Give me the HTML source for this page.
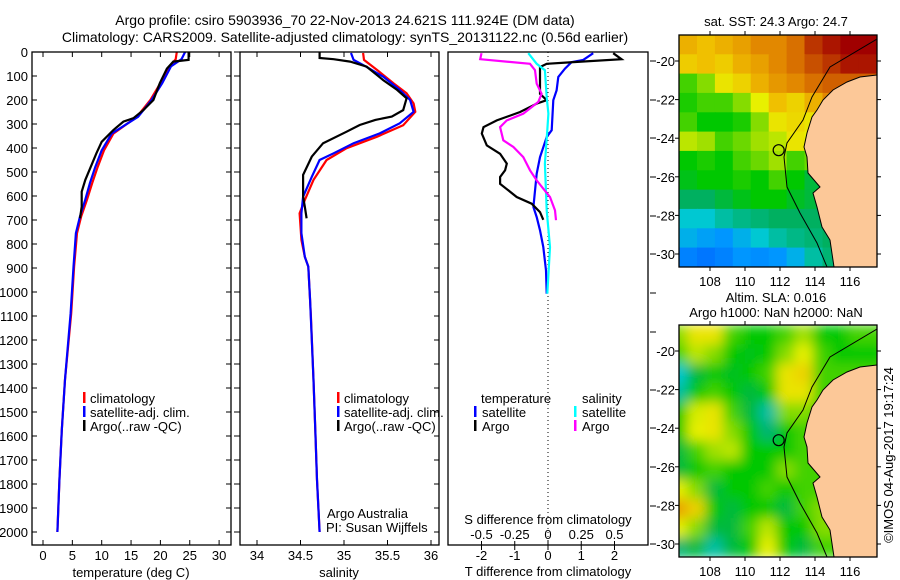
<!DOCTYPE html>
<html><head><meta charset="utf-8"><style>
body{margin:0;background:#fff}
svg{display:block;font-family:"Liberation Sans",sans-serif}
text{fill:#000}
</style></head><body>
<svg id="c" width="900" height="580" viewBox="0 0 900 580" xmlns="http://www.w3.org/2000/svg">
<defs>
<clipPath id="cp1"><rect x="32" y="52" width="199" height="493"/></clipPath>
<clipPath id="cp2"><rect x="240" y="52" width="199" height="493"/></clipPath>
<clipPath id="cp3"><rect x="448" y="52" width="200" height="493"/></clipPath>
<clipPath id="cm1"><rect x="679" y="35" width="198" height="232"/></clipPath>
<clipPath id="cm2"><rect x="679" y="325" width="198" height="232"/></clipPath>
<filter id="blur"><feGaussianBlur stdDeviation="6"/></filter>
</defs>
<text x="345" y="25" font-size="14" text-anchor="middle">Argo profile: csiro 5903936_70 22-Nov-2013 24.621S 111.924E (DM data)</text>
<text x="345" y="42" font-size="14" text-anchor="middle">Climatology: CARS2009. Satellite-adjusted climatology: synTS_20131122.nc (0.56d earlier)</text>
<g id="g"></g>
</svg>
<script>
// ---- data ----
const tSatD=[0,30,60,130,200,270,340,410,480,545,615,685,755,895,1090,1365,1575,1785,2000];
const tSatV=[24.2,23.6,21.8,20.3,18.5,16.2,11.7,10.0,8.9,8.0,7.2,6.3,5.6,5.2,4.7,3.75,3.2,2.8,2.45];
const tCliD=[0,30,60,130,200,270,340,410,480,545,615,685,755,895,1090,1365,1575,1785,2000];
const tCliV=[22.8,22.6,21.6,20.0,18.3,16.0,12.0,10.4,9.3,8.4,7.5,6.5,5.8,5.3,4.8,3.75,3.2,2.8,2.45];
const tArgD=[0,33,40,69,130,200,242,276,290,325,374,422,533,582,644,693];
const tArgV=[24.8,24.8,22.2,21.1,19.9,18.8,17.1,15.4,13.7,12.0,10.0,9.1,7.2,6.6,6.6,6.3];
const sSatD=[4,33,62,103,158,200,249,297,339,380,422,450,520,603,672,755,853,894,1033,1367,1575,1783,2000];
const sSatV=[35.08,35.11,35.26,35.45,35.64,35.76,35.80,35.64,35.41,35.11,34.88,34.72,34.63,34.53,34.51,34.51,34.55,34.59,34.61,34.65,34.67,34.69,34.72];
const sCliD=[4,33,75,131,172,214,249,305,353,401,450,533,617,672,783,853,894,1100,1367,1575,1783,2000];
const sCliV=[35.22,35.23,35.38,35.57,35.72,35.80,35.82,35.68,35.38,35.03,34.80,34.65,34.55,34.49,34.51,34.55,34.59,34.62,34.65,34.67,34.69,34.72];
const sArgD=[0,25,30,40,61,117,158,193,242,269,283,304,332,380,436,512,603,644,693];
const sArgV=[34.72,34.72,34.88,35.07,35.26,35.45,35.61,35.72,35.68,35.55,35.36,35.18,35.03,34.76,34.63,34.53,34.53,34.55,34.57];
const dTSatD=[5,33,42,69,104,160,201,326,354,438,507,646,688,743,813,910,1007];
const dTSatV=[1.36,1.06,0.71,0.51,0.31,0.26,0.16,0.11,-0.04,-0.24,-0.34,-0.44,-0.34,-0.24,-0.14,-0.06,-0.04];
const dTArgD=[5,30,42,49,63,118,174,201,215,250,285,313,340,389,424,465,493,521,549,604,632,667,699];
const dTArgV=[1.96,2.21,0.76,-0.04,-0.24,-0.24,-0.24,-0.04,-0.34,-0.84,-1.54,-1.94,-1.99,-1.84,-1.44,-1.24,-1.29,-1.44,-1.44,-0.94,-0.49,-0.24,-0.14];
const dSSatD=[5,49,76,188,257,326,465,660,813,1007];
const dSSatV=[-0.148,-0.085,-0.023,-0.01,0.003,-0.005,-0.023,-0.01,0.015,-0.005];
const dSArgD=[5,30,49,76,132,174,208,257,285,313,368,396,438,493,535,604,660,701];
const dSArgV=[-0.5,-0.51,-0.135,-0.098,-0.085,-0.048,-0.073,-0.186,-0.31,-0.36,-0.336,-0.26,-0.186,-0.135,-0.085,0.015,0.053,0.06];
const depthTicks=[0,100,200,300,400,500,600,700,800,900,1000,1100,1200,1300,1400,1500,1600,1700,1800,1900,2000];
const tempTicks=[0,5,10,15,20,25,30];
const salTicks=[34,34.5,35,35.5,36];
const dTTicks=[-2,-1,0,1,2];
const dSTicks=[-0.5,-0.25,0,0.25,0.5];
const lonTicks=[108,110,112,114,116];
const latTicks=[-20,-22,-24,-26,-28,-30];
const argoLon=111.924, argoLat=-24.621;
const sstGrid=[
[0.8,0.78,0.8,0.82,0.85,0.85,0.88,0.95,0.98,1,1],
[0.76,0.78,0.76,0.8,0.82,0.85,0.88,0.92,0.95,0.98,0.98],
[0.55,0.6,0.72,0.75,0.8,0.83,0.85,0.88,0.9,0.9,0.9],
[0.52,0.55,0.55,0.6,0.7,0.78,0.75,0.8,0.85,0.85,0.85],
[0.55,0.5,0.5,0.52,0.6,0.72,0.74,0.72,0.6,0.6,0.6],
[0.65,0.62,0.55,0.58,0.62,0.65,0.72,0.7,0.6,0.6,0.6],
[0.5,0.52,0.5,0.55,0.58,0.62,0.55,0.58,0.5,0.5,0.5],
[0.48,0.5,0.5,0.52,0.5,0.55,0.5,0.45,0.45,0.45,0.45],
[0.42,0.42,0.45,0.48,0.5,0.5,0.47,0.45,0.43,0.43,0.43],
[0.3,0.3,0.35,0.38,0.4,0.42,0.42,0.42,0.42,0.42,0.42],
[0.25,0.22,0.2,0.25,0.3,0.35,0.38,0.4,0.42,0.42,0.42],
[0.15,0.12,0.15,0.2,0.18,0.2,0.25,0.35,0.4,0.4,0.4]];
const slaGrid=[
[0.6,0.72,0.72,0.55,0.5,0.5,0.55,0.62,0.5,0.5,0.55],
[0.55,0.65,0.6,0.5,0.48,0.5,0.6,0.7,0.55,0.5,0.5],
[0.3,0.45,0.5,0.47,0.5,0.55,0.72,0.75,0.55,0.55,0.55],
[0.35,0.5,0.55,0.5,0.45,0.5,0.72,0.72,0.55,0.55,0.55],
[0.5,0.68,0.72,0.55,0.45,0.35,0.6,0.6,0.55,0.55,0.55],
[0.5,0.7,0.72,0.6,0.5,0.4,0.5,0.55,0.55,0.55,0.55],
[0.45,0.55,0.62,0.65,0.5,0.5,0.5,0.55,0.55,0.55,0.55],
[0.45,0.5,0.55,0.5,0.5,0.5,0.6,0.55,0.55,0.55,0.55],
[0.7,0.6,0.45,0.5,0.5,0.55,0.5,0.55,0.55,0.55,0.55],
[0.82,0.75,0.5,0.45,0.5,0.5,0.45,0.55,0.6,0.6,0.6],
[0.7,0.6,0.45,0.45,0.55,0.65,0.5,0.5,0.6,0.6,0.6],
[0.4,0.45,0.35,0.45,0.5,0.7,0.5,0.45,0.55,0.55,0.55]];
// ---- scales ----
const yD=d=>52+d*0.24, xT=t=>43+t*5.87, xS=s=>257+(s-34)*87;
const xdT=t=>548+t*33.25, xdS=s=>548+s*133;
const xLon=l=>710+(l-108)*17.5, yLat=(l,off)=>61+off+(-20-l)*19.3;
const NS='http://www.w3.org/2000/svg', G=document.getElementById('g');
function mk(tag,attrs,parent){const e=document.createElementNS(NS,tag);for(const k in attrs)e.setAttribute(k,attrs[k]);(parent||G).appendChild(e);return e;}
function txt(x,y,s,size,anchor,name){const e=mk('text',{x:x,y:y,'font-size':size,'text-anchor':anchor||'start'});e.textContent=s;


return e;}
function line(D,V,xf,color,clip,name){const pts=D.map((d,i)=>xf(V[i]).toFixed(1)+','+yD(d).toFixed(1)).join(' ');
const e=mk('polyline',{points:pts,fill:'none',stroke:color,'stroke-width':2.2,'clip-path':'url(#'+clip+')'});

}
function frame(x,y,w,h,name){const e=mk('rect',{x:x,y:y,width:w,height:h,fill:'none',stroke:'#000','stroke-width':1.3});

}
function tk(x1,y1,x2,y2){mk('line',{x1:x1,y1:y1,x2:x2,y2:y2,stroke:'#000','stroke-width':1});}
// panel 1
depthTicks.forEach(d=>{const y=yD(d);txt(28,y+5,String(d),13,'end','depth-tick-label');tk(32,y,37,y);tk(226,y,231,y);tk(234,y,240,y);tk(434,y,439,y);});
tempTicks.forEach(t=>{const x=xT(t);txt(x,560,String(t),13,'middle','temp-tick-label');tk(x,545,x,540);tk(x,52,x,57);});
salTicks.forEach(s=>{const x=xS(s);txt(x,560,String(s),13,'middle','salinity-tick-label');tk(x,545,x,540);tk(x,52,x,57);});
line(tCliD,tCliV,xT,'#f00','cp1','temp-climatology-line');
line(tSatD,tSatV,xT,'#0000ff','cp1','temp-satellite-line');
line(tArgD,tArgV,xT,'#000','cp1','temp-argo-line');
line(sCliD,sCliV,xS,'#f00','cp2','sal-climatology-line');
line(sSatD,sSatV,xS,'#0000ff','cp2','sal-satellite-line');
line(sArgD,sArgV,xS,'#000','cp2','sal-argo-line');
frame(32,52,199,493,'temperature-plot-frame');frame(240,52,199,493,'salinity-plot-frame');frame(448,52,200,493,'difference-plot-frame');
txt(131,577,'temperature (deg C)',13,'middle','temperature-axis-title');
txt(339,577,'salinity',13,'middle','salinity-axis-title');
[[84,'climatology','#f00'],[84,'satellite-adj. clim.','#00f'],[84,'Argo(..raw -QC)','#000']].forEach((l,i)=>{
 mk('rect',{x:83,y:392+i*14,width:2.5,height:11,fill:l[2]});txt(90,403+i*14,l[1],13,'start','temp-legend-entry');
 mk('rect',{x:337,y:392+i*14,width:2.5,height:11,fill:l[2]});txt(344,403+i*14,l[1],13,'start','sal-legend-entry');});
txt(327,518,'Argo Australia',13,'start','credit-argo-australia');
txt(326,532,'PI: Susan Wijffels',13,'start','credit-pi');
// panel 3
mk('line',{x1:548,y1:52,x2:548,y2:545,stroke:'#000','stroke-width':1,'stroke-dasharray':'1,3'});
line(dTSatD,dTSatV,xdT,'#0000ff','cp3','dT-satellite-line');
line(dTArgD,dTArgV,xdT,'#000','cp3','dT-argo-line');
line(dSSatD,dSSatV,xdS,'#00ffff','cp3','dS-satellite-line');
line(dSArgD,dSArgV,xdS,'#ff00ff','cp3','dS-argo-line');
dTTicks.forEach(t=>{const x=xdT(t);txt(x,560,String(t),13,'middle','dT-tick-label');tk(x,545,x,550);});
dSTicks.forEach(s=>{const x=xdS(s);txt(x,539,String(s),13,'middle','dS-tick-label');tk(x,545,x,541);});
txt(548,524,'S difference from climatology',13,'middle','dS-axis-title');
txt(548,576,'T difference from climatology',13,'middle','dT-axis-title');
txt(481,403,'temperature',13,'start','diff-legend-temperature');txt(582,403,'salinity',13,'start','diff-legend-salinity');
[['#00f',474,'satellite'],['#000',474,'Argo'],['#0ff',574,'satellite'],['#f0f',574,'Argo']].forEach((l,i)=>{const r=i%2;
 mk('rect',{x:l[1],y:406+r*14,width:2.5,height:11,fill:l[0]});txt(l[1]+8,417+r*14,l[2],13,'start','diff-legend-entry');});
[61,100,138,177,216,254,293,332,390,428,467,506,544].forEach(y=>tk(650,y,656,y));
// maps
const stops=[[0,[0,70,255]],[0.2,[0,150,255]],[0.3,[0,200,210]],[0.42,[0,176,96]],[0.5,[0,200,0]],[0.62,[160,224,0]],[0.7,[232,240,0]],[0.78,[240,192,0]],[0.86,[224,128,0]],[0.94,[192,64,0]],[1,[160,0,0]]];
function cmap(v){for(let i=1;i<stops.length;i++){if(v<=stops[i][0]){const a=stops[i-1],b=stops[i],f=(v-a[0])/(b[0]-a[0]);return 'rgb('+a[1].map((c,j)=>Math.round(c+(b[1][j]-c)*f)).join(',')+')';}}return 'rgb(160,0,0)';}
const coast=[[877,75],[860,77],[847,82],[833,90],[823,100],[817,110],[812,117],[807,133],[804,147],[807,157],[808,173],[820,187],[813,193],[817,207],[822,227],[830,240],[834,267],[877,267]];
const shelf=[[877,39],[830,67],[812,97],[803,120],[787,143],[784,157],[787,187],[800,213],[817,243],[827,267]];
function drawMap(grid,off,clip,name,blur){
 const g=mk('g',{'clip-path':'url(#'+clip+')'});
 
 
 const inner=mk('g',blur?{filter:'url(#blur)'}:{},g);
 const lon0=106.23, lat0=-18.65, dl=(117.5-106.23)/11, dla=(30.67-18.65)/12;
 grid.forEach((row,r)=>row.forEach((v,c)=>{const x=xLon(lon0+c*dl), y=yLat(lat0-r*dla,off);
  const e=mk('rect',{x:(blur?x-10:x).toFixed(1),y:y.toFixed(1),width:(dl*17.5+1+(blur?20:0)).toFixed(1),height:(dla*19.3+1).toFixed(1),fill:cmap(v)},inner);
  
  }));
 if(blur){grid.forEach((row,r)=>{const y=yLat(lat0-r*dla,off);mk('rect',{x:660,y:y,width:20,height:dla*19.3+1,fill:cmap(row[0])},inner);});}
 mk('polyline',{points:shelf.map(p=>p[0]+','+(p[1]+off)).join(' '),fill:'none',stroke:'#000','stroke-width':1},g);
 const land=mk('polygon',{points:coast.map(p=>p[0]+','+(p[1]+off)).join(' '),fill:'#fcc898',stroke:'#000','stroke-width':1},g);
 
 
 const c=mk('circle',{cx:xLon(argoLon),cy:yLat(argoLat,off),r:5.5,fill:'none',stroke:'#000','stroke-width':1.2},g);
 
 
 frame(679,35+off,198,232,name+'-frame');
 lonTicks.forEach(l=>{const x=xLon(l);txt(x,286+off,String(l),13,'middle','lon-tick-label');tk(x,35+off,x,31+off);tk(x,267+off,x,271+off);});
 latTicks.forEach(l=>{const y=yLat(l,off);txt(675,y+5,String(l),13,'end','lat-tick-label');tk(679,y,675,y);tk(877,y,881,y);});
}
drawMap(sstGrid,0,'cm1','sst-map',false);
drawMap(slaGrid,290,'cm2','sla-map',true);
txt(776,26,'sat. SST: 24.3 Argo: 24.7',13,'middle','sst-map-title');
txt(776,302,'Altim. SLA: 0.016',13,'middle','sla-map-title-1');
txt(776,317,'Argo h1000: NaN h2000: NaN',13,'middle','sla-map-title-2');
const r=txt(0,0,'©IMOS 04-Aug-2017 19:17:24',13,'middle','timestamp');
r.setAttribute('transform','translate(893,455) rotate(-90)');
</script>
</body></html>
